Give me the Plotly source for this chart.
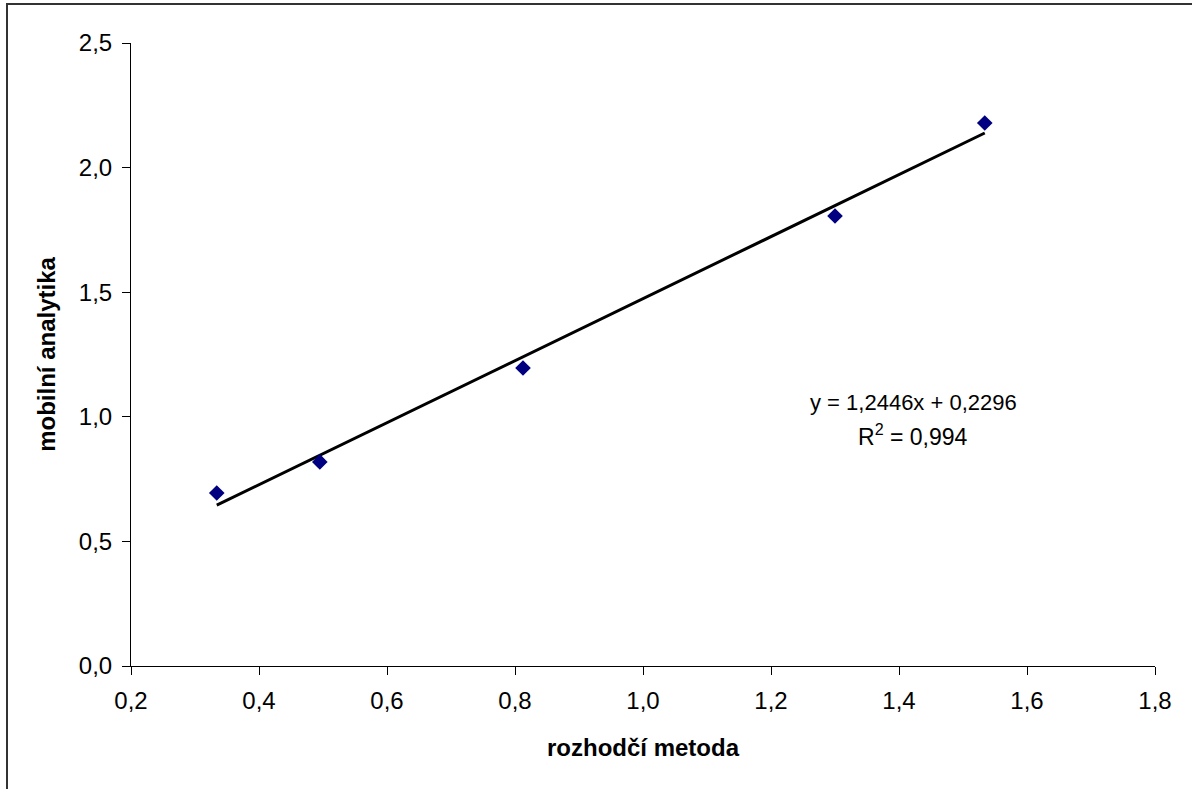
import plotly.graph_objects as go

x_vals = [0.334, 0.495, 0.8125, 1.300, 1.534]
y_vals = [0.694, 0.819, 1.196, 1.806, 2.179]
slope = 1.2446
intercept = 0.2296
eq_line1 = "y = 1,2446x + 0,2296"
eq_line2 = "R<sup>2</sup> = 0,994"
x_title = "rozhodčí metoda"
y_title = "mobilní analytika"

x_line = [min(x_vals), max(x_vals)]
y_line = [slope * v + intercept for v in x_line]

FONT = "Liberation Sans, Arial, sans-serif"

fig = go.Figure()
fig.add_trace(go.Scatter(x=x_line, y=y_line, mode="lines",
                         line=dict(color="black", width=3), hoverinfo="skip"))
fig.add_trace(go.Scatter(x=x_vals, y=y_vals, mode="markers",
                         marker=dict(symbol="diamond", size=12, color="#000080",
                                     line=dict(width=0))))

fig.add_annotation(x=1.422, y=1.059, xref="x", yref="y", text=eq_line1,
                   showarrow=False, align="center",
                   font=dict(size=22, color="black", family=FONT))
fig.add_annotation(x=1.422, y=0.925, xref="x", yref="y", text=eq_line2,
                   showarrow=False, align="center",
                   font=dict(size=23, color="black", family=FONT))

# outer chart frame
fig.add_shape(type="rect", xref="paper", yref="paper",
              x0=(7 - 131) / 1024, x1=(1196 - 131) / 1024,
              y0=(666 - 800) / 623, y1=(666 - 4) / 623,
              line=dict(color="#333333", width=2), layer="below")

fig.update_layout(
    width=1192, height=789,
    margin=dict(l=131, r=37, t=43, b=123),
    paper_bgcolor="white", plot_bgcolor="white",
    showlegend=False,
    separators=", ",
    font=dict(family=FONT, size=24, color="black"),
    xaxis=dict(range=[0.2, 1.8], dtick=0.2, tick0=0.2, tickformat=".1f",
               showgrid=False, zeroline=False, showline=True, linecolor="black",
               linewidth=1, ticks="outside", ticklen=8, tickcolor="black",
               ticklabelstandoff=5,
               tickfont=dict(size=24, family=FONT, color="black"),
               title=dict(text="<b>" + x_title + "</b>", standoff=26,
                          font=dict(size=24, family=FONT, color="black"))),
    yaxis=dict(range=[0, 2.5], dtick=0.5, tickformat=".1f",
               showgrid=False, zeroline=False, showline=True, linecolor="black",
               linewidth=1, ticks="outside", ticklen=8, tickcolor="black",
               ticklabelstandoff=5,
               tickfont=dict(size=24, family=FONT, color="black"),
               title=dict(text="<b>" + y_title + "</b>", standoff=16,
                          font=dict(size=24, family=FONT, color="black"))),
)

fig.write_html("out.html")
